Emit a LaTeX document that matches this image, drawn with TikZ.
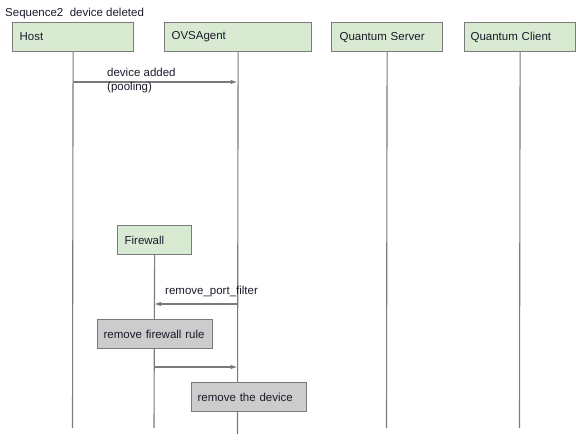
\documentclass[tikz,border=0pt]{standalone}
\usepackage{fontspec}
\setmainfont{Liberation Sans}
\usetikzlibrary{arrows.meta}
\definecolor{boxgreen}{HTML}{D9EAD3}
\definecolor{boxgray}{HTML}{CCCCCC}
\definecolor{linegray}{HTML}{7A7A7A}
\definecolor{txt}{HTML}{1A1A2A}
\tikzset{
  actor/.style={draw=linegray, line width=1.2pt, fill=boxgreen, anchor=north west, minimum height=29pt, align=left, inner ysep=0pt, text=txt, font=\fontsize{11.5}{13}\selectfont},
  action/.style={actor, fill=boxgray},
  life/.style={draw=linegray, line width=1.1pt},
  msg/.style={draw=linegray, line width=1.1pt, -{Latex[length=7pt,width=4.5pt]}},
  lbl/.style={text=txt, font=\fontsize{11.5}{14.5}\selectfont, inner sep=0pt, anchor=west}
}
\begin{document}
\begin{tikzpicture}[x=1pt,y=-1pt]
\useasboundingbox (0,0) rectangle (576,441);
\node[lbl] (title) at (5,14) {Sequence2\ \ device deleted};
% headers
\node[actor, inner xsep=7pt, text width=107pt] (host) at (12,22) {Host};
\node[actor, inner xsep=7pt, text width=133pt] (ovs) at (164,22) {OVSAgent};
\node[actor, inner xsep=8pt, text width=95pt] (qs) at (331,22) {Quantum Server};
\node[actor, inner xsep=6pt, text width=99pt] (qc) at (464,22) {Quantum Client};
\node[actor, inner xsep=7pt, text width=60pt] (fw) at (117,225) {Firewall};
% lifeline ends
\coordinate (hostend) at (72.5,428);
\coordinate (ovsend) at (237.5,434);
\coordinate (qsend) at (386.5,428);
\coordinate (qcend) at (519.5,428);
\coordinate (fwend) at (154,428);
\draw[life] (host.south) -- (hostend);
\draw[life] (ovs.south) -- (ovsend);
\draw[life] (qs.south) -- (qsend);
\draw[life] (qc.south) -- (qcend);
\draw[life] (fw.south) -- (fwend);
% actions
\node[action, inner xsep=6pt, text width=103pt] (rfr) at (97,319) {remove firewall rule};
\node[action, inner xsep=6pt, text width=103pt] (rtd) at (191,382) {remove the device};
% messages
\coordinate (m1a) at (72.5,82);
\coordinate (m1b) at (237.5,82);
\draw[msg] (m1a) -- (m1b);
\node[lbl, anchor=north west, align=left] (m1l) at (107,67.5) {device added\\(pooling)};
\coordinate (m2a) at (237.5,304);
\coordinate (m2b) at (154,304);
\draw[msg] (m2a) -- (m2b);
\node[lbl] (m2l) at (165,292) {remove\_port\_filter};
\coordinate (m3a) at (154,367);
\coordinate (m3b) at (237.5,367);
\draw[msg] (m3a) -- (m3b);
\end{tikzpicture}
\end{document}
